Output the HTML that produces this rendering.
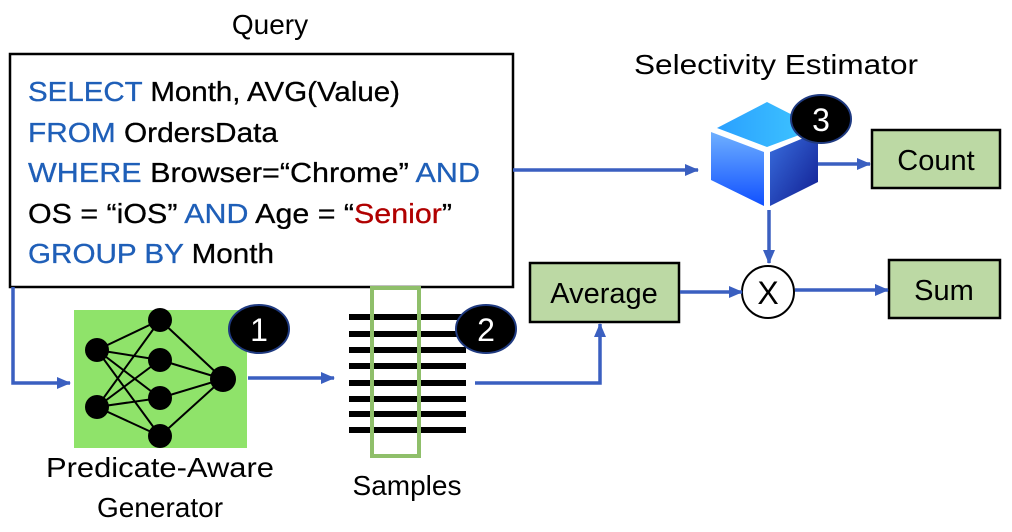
<!DOCTYPE html>
<html><head><meta charset="utf-8"><style>html,body{margin:0;padding:0;background:#fff}svg{display:block}</style></head>
<body>
<svg width="1012" height="532" viewBox="0 0 1012 532" xmlns="http://www.w3.org/2000/svg" font-family="Liberation Sans, sans-serif">
<defs>
<marker id="a" markerWidth="14" markerHeight="12" refX="13" refY="6" orient="auto" markerUnits="userSpaceOnUse"><path d="M0,0 L14,6 L0,12 z" fill="#3a5fc0"/></marker>
<linearGradient id="cl" x1="0" y1="0" x2="0" y2="1"><stop offset="0" stop-color="#6fb0ff"/><stop offset="1" stop-color="#1050ff"/></linearGradient>
<linearGradient id="cr" x1="0" y1="0" x2="1" y2="1"><stop offset="0" stop-color="#3a70e0"/><stop offset="1" stop-color="#101c90"/></linearGradient>
<linearGradient id="ct" x1="0" y1="0" x2="1" y2="0"><stop offset="0" stop-color="#2aa0ff"/><stop offset="1" stop-color="#40c8ff"/></linearGradient>
</defs>
<text x="270" y="34" font-size="28" text-anchor="middle">Query</text>
<rect x="10" y="54" width="503" height="233" fill="#fff" stroke="#000" stroke-width="2.5"/>
<g font-size="28" stroke="#000" stroke-width="0.3">
<text x="28" y="101" textLength="372" lengthAdjust="spacingAndGlyphs"><tspan fill="#1f5fb8" stroke="#1f5fb8">SELECT</tspan> Month, AVG(Value)</text>
<text x="28" y="142" textLength="250" lengthAdjust="spacingAndGlyphs"><tspan fill="#1f5fb8" stroke="#1f5fb8">FROM</tspan> OrdersData</text>
<text x="28" y="182" textLength="452" lengthAdjust="spacingAndGlyphs"><tspan fill="#1f5fb8" stroke="#1f5fb8">WHERE</tspan> Browser=“Chrome” <tspan fill="#1f5fb8" stroke="#1f5fb8">AND</tspan></text>
<text x="28" y="223" textLength="424" lengthAdjust="spacingAndGlyphs">OS = “iOS” <tspan fill="#1f5fb8" stroke="#1f5fb8">AND</tspan> Age = “<tspan fill="#b00000" stroke="#b00000">Senior</tspan>”</text>
<text x="28" y="263" textLength="246" lengthAdjust="spacingAndGlyphs"><tspan fill="#1f5fb8" stroke="#1f5fb8">GROUP BY</tspan> Month</text>
</g>
<text x="776" y="74" font-size="28" text-anchor="middle" textLength="284" lengthAdjust="spacingAndGlyphs">Selectivity Estimator</text>
<polygon points="717,128 767,102 818,128 767,147" fill="url(#ct)"/>
<polygon points="711,132 764,152 764,206 711,180" fill="url(#cl)"/>
<polygon points="770,152 818,132 818,182 770,206" fill="url(#cr)"/>
<ellipse cx="821" cy="119" rx="30" ry="24" fill="#000" stroke="#1f3a80" stroke-width="2"/>
<text x="821" y="131" font-size="32" fill="#fff" text-anchor="middle">3</text>
<rect x="872" y="130" width="128" height="58" fill="#bcd9a4" stroke="#000" stroke-width="2.5"/>
<text x="936" y="170" font-size="29" text-anchor="middle">Count</text>
<rect x="889" y="260" width="111" height="58" fill="#bcd9a4" stroke="#000" stroke-width="2.5"/>
<text x="944" y="300" font-size="29" text-anchor="middle">Sum</text>
<rect x="530" y="263" width="149" height="59" fill="#bcd9a4" stroke="#000" stroke-width="2.5"/>
<text x="604" y="303" font-size="29" text-anchor="middle">Average</text>
<circle cx="768" cy="292" r="26" fill="#fff" stroke="#000" stroke-width="2"/>
<text x="768" y="304" font-size="32" text-anchor="middle">X</text>
<g stroke="#3a5fc0" stroke-width="3.5" fill="none">
<path d="M513,170 H698" marker-end="url(#a)"/>
<path d="M818,164 H870" marker-end="url(#a)"/>
<path d="M769,210 V263" marker-end="url(#a)"/>
<path d="M680,292 H742" marker-end="url(#a)"/>
<path d="M795,290 H888" marker-end="url(#a)"/>
<path d="M475,383 H600 V324" marker-end="url(#a)"/>
<path d="M13,287 V383 H70" marker-end="url(#a)"/>
<path d="M248,378 H334" marker-end="url(#a)"/>
</g>
<rect x="74" y="310" width="173" height="138" fill="#8fe36a"/>
<g stroke="#000" stroke-width="2">
<path d="M97,350 L160,320 M97,350 L160,360 M97,350 L160,398 M97,350 L160,436 M97,407 L160,320 M97,407 L160,360 M97,407 L160,398 M97,407 L160,436 M160,320 L223,379 M160,360 L223,379 M160,398 L223,379 M160,436 L223,379"/>
</g>
<g fill="#000">
<circle cx="97" cy="350" r="12"/><circle cx="97" cy="407" r="12"/>
<circle cx="160" cy="320" r="12"/><circle cx="160" cy="360" r="12"/><circle cx="160" cy="398" r="12"/><circle cx="160" cy="436" r="12"/>
<circle cx="223" cy="379" r="13"/>
</g>
<ellipse cx="259" cy="329" rx="30" ry="24" fill="#000" stroke="#1f3a80" stroke-width="2"/>
<text x="259" y="341" font-size="32" fill="#fff" text-anchor="middle">1</text>
<text x="160" y="477" font-size="28" text-anchor="middle" textLength="228" lengthAdjust="spacingAndGlyphs">Predicate-Aware</text>
<text x="160" y="517" font-size="28" text-anchor="middle">Generator</text>
<g fill="#000">
<rect x="349" y="314" width="117" height="6"/><rect x="349" y="331" width="117" height="6"/><rect x="349" y="347" width="117" height="6"/><rect x="349" y="363" width="117" height="6"/><rect x="349" y="380" width="117" height="6"/><rect x="349" y="396" width="117" height="6"/><rect x="349" y="411" width="117" height="6"/><rect x="349" y="427" width="117" height="6"/>
</g>
<rect x="372" y="288" width="47" height="168" fill="none" stroke="#8fbf6a" stroke-width="4"/>
<ellipse cx="486" cy="329" rx="30" ry="24" fill="#000" stroke="#1f3a80" stroke-width="2"/>
<text x="486" y="341" font-size="32" fill="#fff" text-anchor="middle">2</text>
<text x="407" y="495" font-size="28" text-anchor="middle">Samples</text>
</svg>
</body></html>
